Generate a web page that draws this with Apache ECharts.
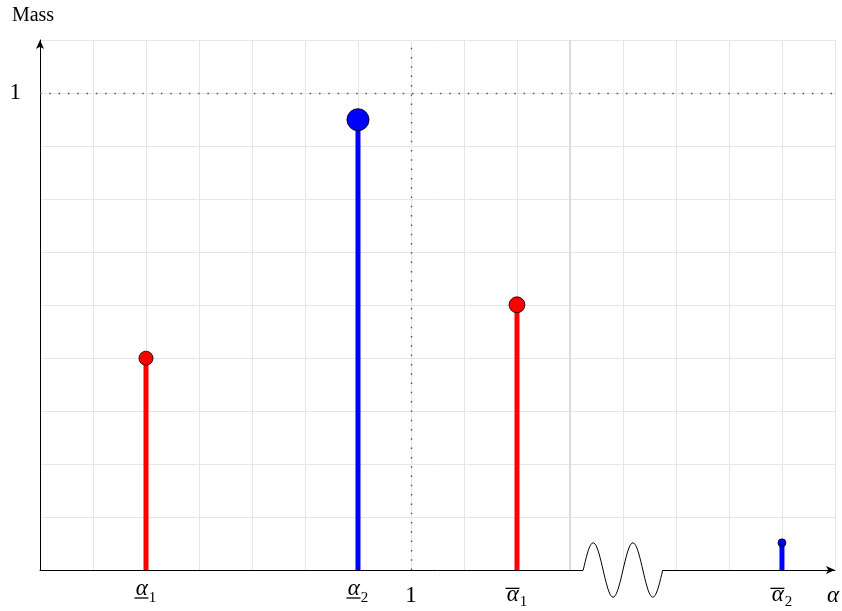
<!DOCTYPE html>
<html>
<head>
<meta charset="utf-8">
<script src="https://cdn.jsdelivr.net/npm/echarts@6/dist/echarts.min.js"></script>
<style>
  html, body { margin: 0; padding: 0; background: #fff; }
  #chart { width: 842px; height: 611px; }
</style>
</head>
<body>
<div id="chart"></div>
<script>
// stems: x position (grid units) and mass
const redX = [2, 9];
const redMass = [0.444, 0.556];
const blueX = [6, 14];
const blueMass = [0.944, 0.057];

// x tick labels
const tickValues = [2, 6, 7, 9, 14];
const tickBase = ['α', 'α', '1', 'α', 'α'];
const tickMark = ['under', 'under', '', 'over', 'over'];
const tickSub = ['1', '2', '', '1', '2'];

// axis break (squiggle) range on x
const breakRange = [10.25, 11.75];
const breakAmp = 0.057;

const serif = '"Liberation Serif", "DejaVu Serif", serif';

const points = [];
redX.forEach((x, i) => points.push({ x: x, m: redMass[i], c: '#ff0000' }));
blueX.forEach((x, i) => points.push({ x: x, m: blueMass[i], c: '#0000ff' }));

function tickText(i) {
  if (!tickSub[i]) return '{n|' + tickBase[i] + '}';
  if (tickMark[i] === 'over') {
    return '{obar|}{gap|}\n{a|' + tickBase[i] + '}{so|' + tickSub[i] + '}';
  }
  return '{a|' + tickBase[i] + '}{su|' + tickSub[i] + '}\n{ubar|}{gap|}';
}

const chart = echarts.init(document.getElementById('chart'), null, { renderer: 'canvas' });

const option = {
  animation: false,
  grid: { left: 40, right: 7, top: 40, bottom: 41 },
  xAxis: {
    type: 'value',
    min: 0,
    max: 15,
    interval: 1,
    name: 'α',
    nameLocation: 'end',
    nameGap: -2,
    nameTextStyle: {
      fontFamily: serif, fontStyle: 'italic', fontSize: 23, color: '#000',
      align: 'center', verticalAlign: 'top', padding: [14, 0, 0, 0]
    },
    axisLine: {
      lineStyle: { color: '#000', width: 1 },
      symbol: ['none', 'arrow'],
      symbolSize: [6, 9]
    },
    axisTick: { show: false },
    splitLine: { show: true, lineStyle: { color: '#e6e6e6', width: 1 } },
    axisLabel: {
      margin: 13,
      showMinLabel: true,
      showMaxLabel: true,
      formatter: function (v) {
        const i = tickValues.indexOf(Math.round(v * 1000) / 1000);
        return i < 0 ? '' : tickText(i);
      },
      rich: {
        n: { fontFamily: serif, fontSize: 23, color: '#000', lineHeight: 25 },
        a: { fontFamily: serif, fontStyle: 'italic', fontSize: 23, color: '#000', lineHeight: 12 },
        su: { fontFamily: serif, fontSize: 15, color: '#000', lineHeight: 12, verticalAlign: 'top', padding: [8, 0, 0, 1] },
        so: { fontFamily: serif, fontSize: 15, color: '#000', lineHeight: 12, verticalAlign: 'top', padding: [6, 0, 0, 1] },
        obar: { width: 14, height: 1.3, lineHeight: 6, verticalAlign: 'bottom', backgroundColor: '#000' },
        ubar: { width: 14, height: 1.3, lineHeight: 6, backgroundColor: '#000' },
        gap: { width: 9, lineHeight: 6 }
      }
    }
  },
  yAxis: {
    type: 'value',
    min: 0,
    max: 10 / 9,
    interval: 1 / 9,
    name: 'Mass',
    nameLocation: 'end',
    nameGap: 14,
    nameTextStyle: {
      fontFamily: serif, fontSize: 20, color: '#000',
      align: 'center', padding: [0, 14, 0, 0]
    },
    axisLine: {
      lineStyle: { color: '#000', width: 1 },
      symbol: ['none', 'arrow'],
      symbolSize: [6, 9]
    },
    axisTick: { show: false },
    splitLine: { show: true, lineStyle: { color: '#e6e6e6', width: 1 } },
    axisLabel: {
      margin: 19,
      fontFamily: serif,
      fontSize: 23,
      color: '#000',
      formatter: function (v) { return Math.abs(v - 1) < 1e-6 ? '1' : ''; }
    }
  },
  series: [
    {
      type: 'bar',
      barWidth: 5,
      z: 2,
      silent: true,
      data: points.map(p => ({ value: [p.x, p.m], itemStyle: { color: p.c } })),
      markLine: {
        silent: true,
        symbol: 'none',
        label: { show: false },
        z: 1,
        data: [
          { yAxis: 1, lineStyle: { color: '#555', width: 1.4, type: [1.5, 7.8] } },
          { xAxis: 7, lineStyle: { color: '#555', width: 1.4, type: [1.5, 7.8] } },
          { xAxis: 10, lineStyle: { color: '#dcdcdc', width: 2, type: 'solid' } }
        ]
      }
    },
    {
      type: 'scatter',
      z: 3,
      silent: true,
      symbolSize: function (val) { return 7 + 16 * val[1]; },
      data: points.map(p => ({
        value: [p.x, p.m],
        itemStyle: { color: p.c, opacity: 1, borderColor: '#000', borderWidth: 0.8 }
      }))
    },
    {
      type: 'custom',
      z: 4,
      silent: true,
      clip: false,
      encode: { x: [0, 1] },
      data: [breakRange],
      renderItem: function (params, api) {
        const p0 = api.coord([api.value(0), 0]);
        const p1 = api.coord([api.value(1), 0]);
        const amp = p0[1] - api.coord([api.value(0), breakAmp])[1];
        const pts = [];
        const n = 80;
        for (let i = 0; i <= n; i++) {
          const t = i / n;
          pts.push([p0[0] + (p1[0] - p0[0]) * t, p0[1] - amp * Math.sin(t * 4 * Math.PI)]);
        }
        return {
          type: 'group',
          children: [
            { type: 'line', shape: { x1: p0[0], y1: p0[1], x2: p1[0], y2: p1[1] }, style: { stroke: '#fff', lineWidth: 3 } },
            { type: 'polyline', shape: { points: pts }, style: { stroke: '#000', lineWidth: 1, fill: null } }
          ]
        };
      }
    }
  ]
};

chart.setOption(option);
window.addEventListener('resize', chart.resize);
</script>
</body>
</html>
